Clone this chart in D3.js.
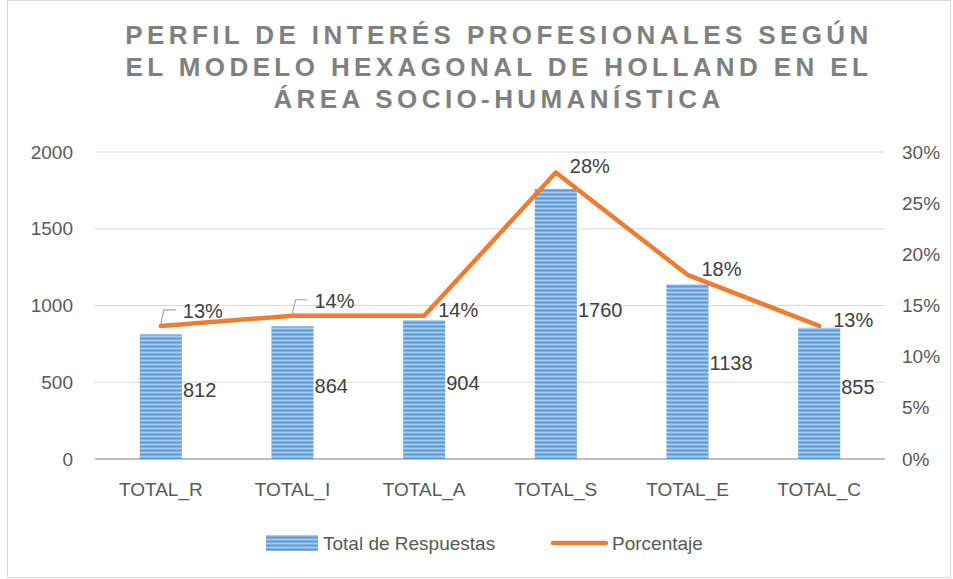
<!DOCTYPE html>
<html>
<head>
<meta charset="utf-8">
<script src="https://cdn.jsdelivr.net/npm/d3@7"></script>
<style>
  body { margin: 0; background: #fff; }
  text { font-family: "Liberation Sans", Arial, sans-serif; }
  .title { font-weight: bold; fill: #808080; letter-spacing: 4.4px; }
  .tick-label { fill: #595959; font-size: 19px; }
  .data-label { fill: #404040; font-size: 20px; }
</style>
</head>
<body>
<svg id="chart"></svg>
<script>
const categories = ['TOTAL_R', 'TOTAL_I', 'TOTAL_A', 'TOTAL_S', 'TOTAL_E', 'TOTAL_C'];
const totals = [812, 864, 904, 1760, 1138, 855];
const percents = [13, 14, 14, 28, 18, 13];
const leftTicks = [0, 500, 1000, 1500, 2000];
const rightTicks = [0, 5, 10, 15, 20, 25, 30];
const titleLines = [
  'PERFIL DE INTERÉS PROFESIONALES SEGÚN',
  'EL MODELO HEXAGONAL DE HOLLAND EN EL',
  'ÁREA SOCIO-HUMANÍSTICA',
];

const W = 953;
const H = 579;
const margin = { top: 152, right: 68, bottom: 120, left: 95 };
const width = W - margin.left - margin.right;
const height = H - margin.top - margin.bottom;

const svg = d3.select('#chart')
  .attr('width', W)
  .attr('height', H);

// striped fill like the original bars
const defs = svg.append('defs');
const pat = defs.append('pattern')
  .attr('id', 'stripes')
  .attr('patternUnits', 'userSpaceOnUse')
  .attr('width', 8)
  .attr('height', 4);
pat.append('rect').attr('width', 8).attr('height', 4).attr('fill', '#a9cbeb');
pat.append('rect').attr('y', 1.5).attr('width', 8).attr('height', 2).attr('fill', '#5b9bd5');

svg.append('rect')
  .attr('x', 7.5).attr('y', 0.5)
  .attr('width', W - 10).attr('height', H - 2)
  .attr('fill', 'none')
  .attr('stroke', '#d9d9d9');

svg.append('g')
  .selectAll('text')
  .data(titleLines)
  .join('text')
  .attr('class', 'title')
  .attr('x', 499)
  .attr('y', (d, i) => 44 + i * 32)
  .attr('text-anchor', 'middle')
  .style('font-size', '26px')
  .text((d) => d);

const chart = svg.append('g')
  .attr('transform', `translate(${margin.left},${margin.top})`);

const x = d3.scaleBand()
  .domain(categories)
  .range([0, width])
  .paddingInner(0.68)
  .paddingOuter(0.34);

const y = d3.scaleLinear().domain([0, 2000]).range([height, 0]);
const yR = d3.scaleLinear().domain([0, 30]).range([height, 0]);

// gridlines
chart.append('g')
  .selectAll('line')
  .data(leftTicks)
  .join('line')
  .attr('x1', 0)
  .attr('x2', width)
  .attr('y1', (d) => y(d))
  .attr('y2', (d) => y(d))
  .attr('stroke', (d) => (d === 0 ? '#bfbfbf' : '#d9d9d9'))
  .attr('stroke-width', (d) => (d === 0 ? 2 : 1));

// left axis
const leftAxis = chart.append('g')
  .call(d3.axisLeft(y).tickValues(leftTicks).tickSize(0).tickPadding(22)
    .tickFormat(d3.format('d')));
leftAxis.select('.domain').remove();
leftAxis.selectAll('text').attr('class', 'tick-label').attr('font-family', null).attr('font-size', null);

// right axis
const rightAxis = chart.append('g')
  .attr('transform', `translate(${width},0)`)
  .call(d3.axisRight(yR).tickValues(rightTicks).tickSize(0).tickPadding(17)
    .tickFormat((d) => `${d}%`));
rightAxis.select('.domain').remove();
rightAxis.selectAll('text').attr('class', 'tick-label').attr('font-family', null).attr('font-size', null);

// bottom axis
const bottomAxis = chart.append('g')
  .attr('transform', `translate(0,${height})`)
  .call(d3.axisBottom(x).tickSize(0).tickPadding(24));
bottomAxis.select('.domain').remove();
bottomAxis.selectAll('text').attr('class', 'tick-label').attr('font-family', null).attr('font-size', null);

// bars
chart.append('g')
  .selectAll('rect')
  .data(totals)
  .join('rect')
  .attr('x', (d, i) => x(categories[i]))
  .attr('y', (d) => y(d))
  .attr('width', x.bandwidth())
  .attr('height', (d) => height - y(d))
  .attr('fill', 'url(#stripes)');

chart.append('g')
  .selectAll('text')
  .data(totals)
  .join('text')
  .attr('class', 'data-label')
  .attr('x', (d, i) => x(categories[i]) + x.bandwidth() + 1)
  .attr('y', (d) => y(d * 0.55) + 7)
  .text((d) => d);

// line
const cx = (i) => x(categories[i]) + x.bandwidth() / 2;
const line = d3.line()
  .x((d, i) => cx(i))
  .y((d) => yR(d));

chart.append('path')
  .datum(percents)
  .attr('d', line)
  .attr('fill', 'none')
  .attr('stroke', '#ed7d31')
  .attr('stroke-width', 4.5)
  .attr('stroke-linejoin', 'round')
  .attr('stroke-linecap', 'round');

// leader lines for the first two labels
chart.append('g')
  .selectAll('path')
  .data(percents.slice(0, 2))
  .join('path')
  .attr('d', (d, i) => `M${cx(i)},${yR(d) - 2}L${cx(i) + 3},${yR(d) - 16}H${cx(i) + 15}`)
  .attr('fill', 'none')
  .attr('stroke', '#a6a6a6')
  .attr('stroke-width', 1.2);

chart.append('g')
  .selectAll('text')
  .data(percents)
  .join('text')
  .attr('class', 'data-label')
  .attr('x', (d, i) => cx(i) + (i < 2 ? 22 : 14))
  .attr('y', (d, i) => yR(d) + (i < 2 ? -8 : 1))
  .text((d) => `${d}%`);

// legend
const legend = svg.append('g').attr('transform', 'translate(266,543)');
legend.append('rect')
  .attr('x', 0).attr('y', -8)
  .attr('width', 52).attr('height', 16)
  .attr('fill', 'url(#stripes)');
legend.append('text')
  .attr('class', 'tick-label')
  .attr('x', 57).attr('y', 7)
  .text('Total de Respuestas');
legend.append('line')
  .attr('x1', 287).attr('x2', 340)
  .attr('y1', 0).attr('y2', 0)
  .attr('stroke', '#ed7d31')
  .attr('stroke-width', 4.5)
  .attr('stroke-linecap', 'round');
legend.append('text')
  .attr('class', 'tick-label')
  .attr('x', 346).attr('y', 7)
  .text('Porcentaje');
</script>
</body>
</html>
